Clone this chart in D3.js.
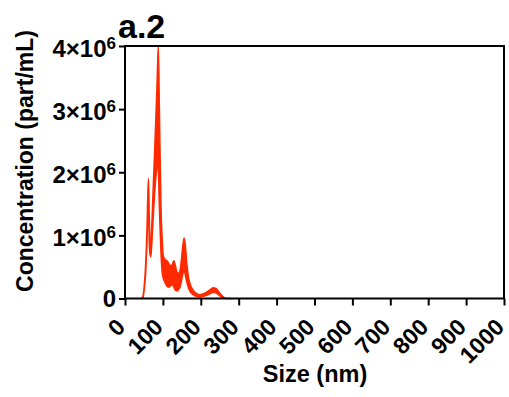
<!DOCTYPE html>
<html>
<head>
<meta charset="utf-8">
<script src="https://cdn.jsdelivr.net/npm/d3@7"></script>
<style>
  body { margin: 0; background: #fff; }
  text { font-family: Arial, "Liberation Sans", Helvetica, sans-serif; font-weight: bold; fill: #000; }
</style>
</head>
<body>
<div id="chart"></div>
<script>
// size in nm, concentration band (x1e6 part/mL): upper and lower edge
const sizes = [43, 47, 50, 55, 58, 60, 62, 64, 66, 68, 70, 72, 75, 78, 81, 84, 86, 88, 90, 92, 95, 98, 101, 105, 110, 115, 120, 125, 129, 133, 137, 141, 145, 149, 153, 156, 159, 163, 168, 173, 180, 188, 196, 205, 215, 225, 233, 240, 248, 255, 262, 270, 280]
const upper = [0, 0.03, 0.15, 0.6, 1.1, 1.6, 1.9, 1.3, 0.88, 0.82, 1.05, 1.35, 1.85, 2.3, 2.8, 3.3, 3.7, 4.0, 3.3, 2.5, 1.45, 0.95, 0.68, 0.62, 0.6, 0.56, 0.52, 0.54, 0.6, 0.52, 0.42, 0.4, 0.44, 0.62, 0.86, 0.96, 0.86, 0.56, 0.32, 0.21, 0.13, 0.08, 0.06, 0.07, 0.1, 0.14, 0.17, 0.16, 0.1, 0.05, 0.015, 0, 0]
const lower = [0, 0.01, 0.1, 0.45, 0.9, 1.3, 1.6, 0.9, 0.7, 0.66, 0.8, 1.0, 1.35, 1.65, 1.9, 2.05, 2.15, 2.1, 1.6, 1.2, 0.72, 0.42, 0.32, 0.26, 0.2, 0.18, 0.2, 0.22, 0.18, 0.13, 0.12, 0.14, 0.18, 0.28, 0.4, 0.46, 0.38, 0.26, 0.16, 0.1, 0.06, 0.035, 0.025, 0.03, 0.05, 0.08, 0.1, 0.09, 0.05, 0.02, 0.005, 0, 0]

const xTicks = [0, 100, 200, 300, 400, 500, 600, 700, 800, 900, 1000]
const yTicks = [0, 1, 2, 3, 4]

const data = sizes.map((s, i) => ({size: s, hi: upper[i] * 1e6, lo: lower[i] * 1e6}))

const W = 509, H = 397
const margin = {top: 46, right: 5, bottom: 98.5, left: 125}
const width = W - margin.left - margin.right,
      height = H - margin.top - margin.bottom

const svg = d3.select("#chart").append("svg")
  .attr("width", W).attr("height", H)

const g = svg.append("g")
  .attr("transform", `translate(${margin.left},${margin.top})`)

const x = d3.scaleLinear().domain([0, 1000]).range([0, width])
const y = d3.scaleLinear().domain([0, 4e6]).range([height, 0])

// band
const area = d3.area()
  .x(d => x(d.size))
  .y0(d => y(d.lo))
  .y1(d => y(d.hi))
  .curve(d3.curveMonotoneX)

g.append("path")
  .datum(data)
  .attr("d", area)
  .attr("fill", "#ff2a00")
  .attr("stroke", "#ff2a00")
  .attr("stroke-width", 1.5)
  .attr("stroke-linejoin", "round")

// frame
g.append("rect")
  .attr("x", 0).attr("y", 0)
  .attr("width", width).attr("height", height)
  .attr("fill", "none").attr("stroke", "#000").attr("stroke-width", 2)

// x axis
const xAxis = g.append("g")
  .attr("transform", `translate(0,${height})`)
  .call(d3.axisBottom(x).tickValues(xTicks).tickSize(7).tickFormat(""))
xAxis.select(".domain").remove()
xAxis.selectAll("line").attr("stroke", "#000").attr("stroke-width", 2)

g.selectAll(".xlab")
  .data(xTicks)
  .enter().append("text")
  .attr("class", "xlab")
  .attr("transform", d => `translate(${x(d) + 1.5},${height + 30}) rotate(-45)`)
  .attr("text-anchor", "end")
  .style("font-size", "23px")
  .text(d => d)

// y axis
const yAxis = g.append("g")
  .call(d3.axisLeft(y).tickValues(yTicks.map(v => v * 1e6)).tickSize(6).tickFormat(""))
yAxis.select(".domain").remove()
yAxis.selectAll("line").attr("stroke", "#000").attr("stroke-width", 2)

const ylab = g.selectAll(".ylab")
  .data(yTicks)
  .enter().append("text")
  .attr("class", "ylab")
  .attr("x", -9)
  .attr("y", d => y(d * 1e6))
  .attr("dy", d => d === 0 ? "0.36em" : "0.45em")
  .attr("text-anchor", "end")
  .style("font-size", "24px")
ylab.filter(d => d === 0).text("0")
ylab.filter(d => d !== 0).each(function(d) {
  const t = d3.select(this)
  t.append("tspan").text(d + "×10")
  t.append("tspan").attr("dy", "-8").style("font-size", "17px").text("6")
})

// titles
svg.append("text")
  .attr("x", 315)
  .attr("y", 382)
  .attr("text-anchor", "middle")
  .style("font-size", "23.5px")
  .text("Size (nm)")

svg.append("text")
  .attr("transform", "translate(33,161) rotate(-90)")
  .attr("text-anchor", "middle")
  .style("font-size", "23px")
  .text("Concentration (part/mL)")

svg.append("text")
  .attr("x", 118)
  .attr("y", 38)
  .style("font-size", "34px")
  .text("a.2")
</script>
</body>
</html>
